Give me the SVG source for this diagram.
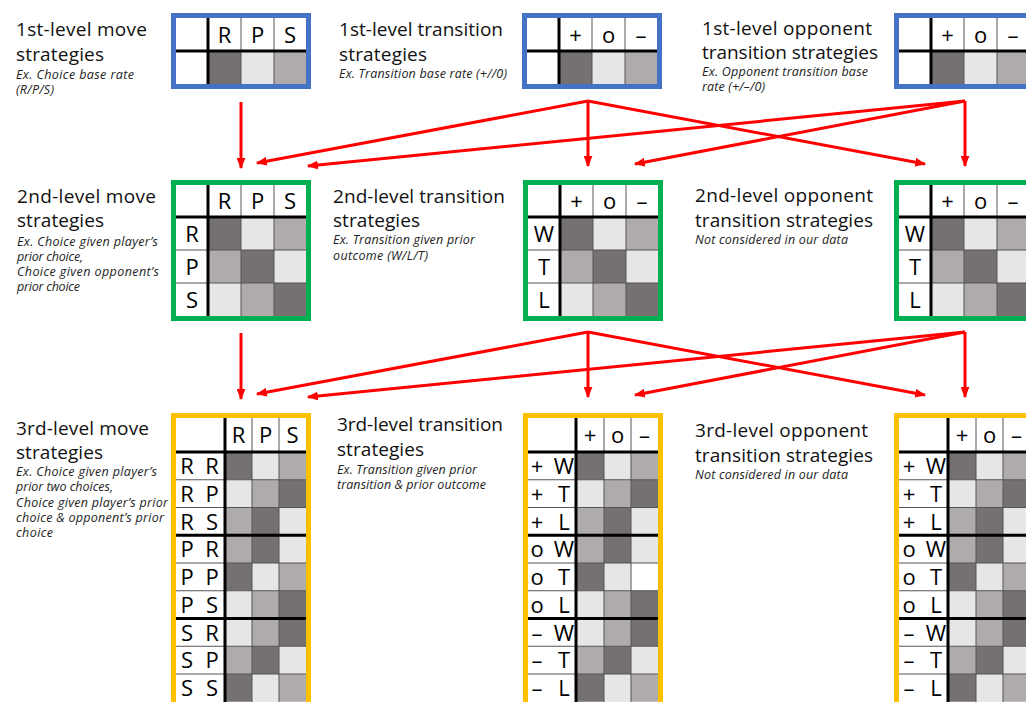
<svg xmlns="http://www.w3.org/2000/svg" width="1026" height="702" viewBox="0 0 1026 702">
<defs>
<style>
.t{font-family:"Open Sans","Liberation Sans",sans-serif;font-size:19px;fill:#111}
.s{font-family:"Open Sans","Liberation Sans",sans-serif;font-size:12.5px;font-style:italic;fill:#222}
.c{font-family:"Open Sans","Liberation Sans",sans-serif;font-size:22px;fill:#000;text-anchor:middle}
.D{fill:#767171}.M{fill:#AFABAB}.L{fill:#E7E6E6}.W{fill:#FFFFFF}
.bg{fill:#fff}
.thin{stroke:#555;stroke-width:1;fill:none}
.thick{stroke:#000;stroke-width:3;fill:none}
.blue{fill:none;stroke:#4472C4;stroke-width:5}
.green{fill:none;stroke:#00B050;stroke-width:5}
.yellow{fill:none;stroke:#FFC000;stroke-width:5}
.arr{stroke:#FF0000;stroke-width:3;fill:none;marker-end:url(#ah)}
</style>
<marker id="ah" viewBox="0 0 10 8" refX="9" refY="4" markerWidth="11" markerHeight="9" markerUnits="userSpaceOnUse" orient="auto">
<path d="M0,0 L10,4 L0,8 z" fill="#FF0000"/>
</marker>
</defs>
<rect width="1026" height="702" fill="#fff"/>

<!-- Labels -->
<g id="label-1-move">
<text class="t" x="16" y="36" textLength="131">1st-level move</text>
<text class="t" x="16" y="61" textLength="88">strategies</text>
<text class="s" x="16" y="79" textLength="118">Ex. Choice base rate</text>
<text class="s" x="16" y="94" textLength="38">(R/P/S)</text>
</g>
<g id="label-1-transition">
<text class="t" x="339" y="36" textLength="164">1st-level transition</text>
<text class="t" x="339" y="61" textLength="88">strategies</text>
<text class="s" x="339" y="78" textLength="168">Ex. Transition base rate (+//0)</text>
</g>
<g id="label-1-opponent">
<text class="t" x="702" y="35" textLength="170">1st-level opponent</text>
<text class="t" x="702" y="59" textLength="176">transition strategies</text>
<text class="s" x="702" y="76" textLength="166">Ex. Opponent transition base</text>
<text class="s" x="702" y="91" textLength="63">rate (+/–/0)</text>
</g>
<g id="label-2-move">
<text class="t" x="17" y="203" textLength="139">2nd-level move</text>
<text class="t" x="17" y="227" textLength="87">strategies</text>
<text class="s" x="17" y="246" textLength="141">Ex. Choice given player’s</text>
<text class="s" x="17" y="261" textLength="66">prior choice,</text>
<text class="s" x="17" y="276" textLength="142">Choice given opponent’s</text>
<text class="s" x="17" y="291" textLength="63">prior choice</text>
</g>
<g id="label-2-transition">
<text class="t" x="333" y="203" textLength="172">2nd-level transition</text>
<text class="t" x="333" y="227" textLength="87">strategies</text>
<text class="s" x="333" y="244" textLength="142">Ex. Transition given prior</text>
<text class="s" x="333" y="260" textLength="95">outcome (W/L/T)</text>
</g>
<g id="label-2-opponent">
<text class="t" x="695" y="202" textLength="178">2nd-level opponent</text>
<text class="t" x="695" y="227" textLength="178">transition strategies</text>
<text class="s" x="695" y="244" textLength="153">Not considered in our data</text>
</g>
<g id="label-3-move">
<text class="t" x="16" y="435" textLength="133">3rd-level move</text>
<text class="t" x="16" y="459" textLength="87">strategies</text>
<text class="s" x="16" y="476" textLength="141">Ex. Choice given player’s</text>
<text class="s" x="16" y="491" textLength="97">prior two choices,</text>
<text class="s" x="16" y="507" textLength="152">Choice given player’s prior</text>
<text class="s" x="16" y="522" textLength="148">choice &amp; opponent’s prior</text>
<text class="s" x="16" y="537" textLength="37">choice</text>
</g>
<g id="label-3-transition">
<text class="t" x="337" y="431" textLength="166">3rd-level transition</text>
<text class="t" x="337" y="456" textLength="87">strategies</text>
<text class="s" x="337" y="474" textLength="140">Ex. Transition given prior</text>
<text class="s" x="337" y="489" textLength="149">transition &amp; prior outcome</text>
</g>
<g id="label-3-opponent">
<text class="t" x="695" y="437" textLength="173">3rd-level opponent</text>
<text class="t" x="695" y="462" textLength="178">transition strategies</text>
<text class="s" x="695" y="479" textLength="153">Not considered in our data</text>
</g>

<!-- Level 1 tables -->
<g id="table-1-move">
<rect class="bg" x="176" y="18" width="130" height="66"/>
<rect class="D" x="208" y="51" width="33" height="33"/><rect class="L" x="241" y="51" width="33" height="33"/><rect class="M" x="274" y="51" width="32" height="33"/>
<path class="thin" d="M241,18V84M274,18V84"/>
<path class="thick" d="M208,18V84M176,51H306"/>
<text class="c" x="224.5" y="42.5">R</text><text class="c" x="257.5" y="42.5">P</text><text class="c" x="290" y="42.5">S</text>
<rect class="blue" x="173.5" y="15.5" width="135" height="71"/>
</g>
<g id="table-1-transition">
<rect class="bg" x="527" y="18" width="130" height="66"/>
<rect class="D" x="559" y="51" width="33" height="33"/><rect class="L" x="592" y="51" width="33" height="33"/><rect class="M" x="625" y="51" width="32" height="33"/>
<path class="thin" d="M592,18V84M625,18V84"/>
<path class="thick" d="M559,18V84M527,51H657"/>
<text class="c" x="575.5" y="42.5">+</text><text class="c" x="608.5" y="42.5">o</text><text class="c" x="641" y="42.5">–</text>
<rect class="blue" x="524.5" y="15.5" width="135" height="71"/>
</g>
<g id="table-1-opponent">
<rect class="bg" x="899" y="18" width="130" height="66"/>
<rect class="D" x="931" y="51" width="33" height="33"/><rect class="L" x="964" y="51" width="33" height="33"/><rect class="M" x="997" y="51" width="32" height="33"/>
<path class="thin" d="M964,18V84M997,18V84"/>
<path class="thick" d="M931,18V84M899,51H1029"/>
<text class="c" x="947.5" y="42.5">+</text><text class="c" x="980.5" y="42.5">o</text><text class="c" x="1013" y="42.5">–</text>
<rect class="blue" x="896.5" y="15.5" width="135" height="71"/>
</g>

<!-- Level 2 tables -->
<g id="table-2-move">
<rect class="bg" x="176" y="185" width="130" height="131"/>
<rect class="D" x="208" y="217" width="33" height="33"/><rect class="L" x="241" y="217" width="33" height="33"/><rect class="M" x="274" y="217" width="32" height="33"/>
<rect class="M" x="208" y="250" width="33" height="33"/><rect class="D" x="241" y="250" width="33" height="33"/><rect class="L" x="274" y="250" width="32" height="33"/>
<rect class="L" x="208" y="283" width="33" height="33"/><rect class="M" x="241" y="283" width="33" height="33"/><rect class="D" x="274" y="283" width="32" height="33"/>
<path class="thin" d="M241,185V316M274,185V316M176,250H306M176,283H306"/>
<path class="thick" d="M208,185V316M176,217H306"/>
<text class="c" x="224.5" y="209">R</text><text class="c" x="257.5" y="209">P</text><text class="c" x="290" y="209">S</text>
<text class="c" x="192" y="241.5">R</text><text class="c" x="192" y="274.5">P</text><text class="c" x="192" y="307.5">S</text>
<rect class="green" x="173.5" y="182.5" width="135" height="136"/>
</g>
<g id="table-2-transition">
<rect class="bg" x="528" y="185" width="130" height="131"/>
<rect class="D" x="560" y="217" width="33" height="33"/><rect class="L" x="593" y="217" width="33" height="33"/><rect class="M" x="626" y="217" width="32" height="33"/>
<rect class="M" x="560" y="250" width="33" height="33"/><rect class="D" x="593" y="250" width="33" height="33"/><rect class="L" x="626" y="250" width="32" height="33"/>
<rect class="L" x="560" y="283" width="33" height="33"/><rect class="M" x="593" y="283" width="33" height="33"/><rect class="D" x="626" y="283" width="32" height="33"/>
<path class="thin" d="M593,185V316M626,185V316M528,250H658M528,283H658"/>
<path class="thick" d="M560,185V316M528,217H658"/>
<text class="c" x="576.5" y="209">+</text><text class="c" x="609.5" y="209">o</text><text class="c" x="642" y="209">–</text>
<text class="c" x="544" y="241.5">W</text><text class="c" x="544" y="274.5">T</text><text class="c" x="544" y="307.5">L</text>
<rect class="green" x="525.5" y="182.5" width="135" height="136"/>
</g>
<g id="table-2-opponent">
<rect class="bg" x="899" y="185" width="130" height="131"/>
<rect class="D" x="931" y="217" width="33" height="33"/><rect class="L" x="964" y="217" width="33" height="33"/><rect class="M" x="997" y="217" width="32" height="33"/>
<rect class="M" x="931" y="250" width="33" height="33"/><rect class="D" x="964" y="250" width="33" height="33"/><rect class="L" x="997" y="250" width="32" height="33"/>
<rect class="L" x="931" y="283" width="33" height="33"/><rect class="M" x="964" y="283" width="33" height="33"/><rect class="D" x="997" y="283" width="32" height="33"/>
<path class="thin" d="M964,185V316M997,185V316M899,250H1029M899,283H1029"/>
<path class="thick" d="M931,185V316M899,217H1029"/>
<text class="c" x="947.5" y="209">+</text><text class="c" x="980.5" y="209">o</text><text class="c" x="1013" y="209">–</text>
<text class="c" x="915" y="241.5">W</text><text class="c" x="915" y="274.5">T</text><text class="c" x="915" y="307.5">L</text>
<rect class="green" x="896.5" y="182.5" width="135" height="136"/>
</g>

<!-- Level 3 tables -->
<g id="table-3-move">
<rect class="bg" x="176" y="418" width="130" height="284"/>
<rect class="D" x="225" y="452" width="27" height="27.75"/><rect class="L" x="252" y="452" width="27" height="27.75"/><rect class="M" x="279" y="452" width="27" height="27.75"/>
<rect class="L" x="225" y="479.75" width="27" height="27.75"/><rect class="M" x="252" y="479.75" width="27" height="27.75"/><rect class="D" x="279" y="479.75" width="27" height="27.75"/>
<rect class="M" x="225" y="507.5" width="27" height="27.75"/><rect class="D" x="252" y="507.5" width="27" height="27.75"/><rect class="L" x="279" y="507.5" width="27" height="27.75"/>
<rect class="M" x="225" y="535.25" width="27" height="27.75"/><rect class="D" x="252" y="535.25" width="27" height="27.75"/><rect class="L" x="279" y="535.25" width="27" height="27.75"/>
<rect class="D" x="225" y="563" width="27" height="27.75"/><rect class="L" x="252" y="563" width="27" height="27.75"/><rect class="M" x="279" y="563" width="27" height="27.75"/>
<rect class="L" x="225" y="590.75" width="27" height="27.75"/><rect class="M" x="252" y="590.75" width="27" height="27.75"/><rect class="D" x="279" y="590.75" width="27" height="27.75"/>
<rect class="L" x="225" y="618.5" width="27" height="27.75"/><rect class="M" x="252" y="618.5" width="27" height="27.75"/><rect class="D" x="279" y="618.5" width="27" height="27.75"/>
<rect class="M" x="225" y="646.25" width="27" height="27.75"/><rect class="D" x="252" y="646.25" width="27" height="27.75"/><rect class="L" x="279" y="646.25" width="27" height="27.75"/>
<rect class="D" x="225" y="674" width="27" height="27.75"/><rect class="L" x="252" y="674" width="27" height="27.75"/><rect class="M" x="279" y="674" width="27" height="27.75"/>
<path class="thin" d="M252,418V702M279,418V702M176,479.75H306M176,507.5H306M176,563H306M176,590.75H306M176,646.25H306M176,674H306"/>
<path class="thick" d="M225,418V702M176,452H306M176,535.25H306M176,618.5H306"/>
<text class="c" x="238.5" y="443">R</text><text class="c" x="265.5" y="443">P</text><text class="c" x="292.5" y="443">S</text>
<text class="c" x="187" y="474">R</text><text class="c" x="212" y="474">R</text>
<text class="c" x="187" y="501.5">R</text><text class="c" x="212" y="501.5">P</text>
<text class="c" x="187" y="529.5">R</text><text class="c" x="212" y="529.5">S</text>
<text class="c" x="187" y="557">P</text><text class="c" x="212" y="557">R</text>
<text class="c" x="187" y="585">P</text><text class="c" x="212" y="585">P</text>
<text class="c" x="187" y="612.5">P</text><text class="c" x="212" y="612.5">S</text>
<text class="c" x="187" y="640.5">S</text><text class="c" x="212" y="640.5">R</text>
<text class="c" x="187" y="668">S</text><text class="c" x="212" y="668">P</text>
<text class="c" x="187" y="696">S</text><text class="c" x="212" y="696">S</text>
<rect class="yellow" x="173.5" y="415.5" width="135" height="300"/>
</g>
<g id="table-3-transition">
<rect class="bg" x="528" y="418" width="130" height="284"/>
<rect class="D" x="576" y="452" width="28" height="27.75"/><rect class="L" x="604" y="452" width="27" height="27.75"/><rect class="M" x="631" y="452" width="27" height="27.75"/>
<rect class="L" x="576" y="479.75" width="28" height="27.75"/><rect class="M" x="604" y="479.75" width="27" height="27.75"/><rect class="D" x="631" y="479.75" width="27" height="27.75"/>
<rect class="M" x="576" y="507.5" width="28" height="27.75"/><rect class="D" x="604" y="507.5" width="27" height="27.75"/><rect class="L" x="631" y="507.5" width="27" height="27.75"/>
<rect class="M" x="576" y="535.25" width="28" height="27.75"/><rect class="D" x="604" y="535.25" width="27" height="27.75"/><rect class="L" x="631" y="535.25" width="27" height="27.75"/>
<rect class="D" x="576" y="563" width="28" height="27.75"/><rect class="L" x="604" y="563" width="27" height="27.75"/><rect class="W" x="631" y="563" width="27" height="27.75"/>
<rect class="L" x="576" y="590.75" width="28" height="27.75"/><rect class="M" x="604" y="590.75" width="27" height="27.75"/><rect class="D" x="631" y="590.75" width="27" height="27.75"/>
<rect class="L" x="576" y="618.5" width="28" height="27.75"/><rect class="M" x="604" y="618.5" width="27" height="27.75"/><rect class="D" x="631" y="618.5" width="27" height="27.75"/>
<rect class="M" x="576" y="646.25" width="28" height="27.75"/><rect class="D" x="604" y="646.25" width="27" height="27.75"/><rect class="L" x="631" y="646.25" width="27" height="27.75"/>
<rect class="D" x="576" y="674" width="28" height="27.75"/><rect class="L" x="604" y="674" width="27" height="27.75"/><rect class="M" x="631" y="674" width="27" height="27.75"/>
<path class="thin" d="M604,418V702M631,418V702M528,479.75H658M528,507.5H658M528,563H658M528,590.75H658M528,646.25H658M528,674H658"/>
<path class="thick" d="M576,418V702M528,452H658M528,535.25H658M528,618.5H658"/>
<text class="c" x="590" y="443">+</text><text class="c" x="617.5" y="443">o</text><text class="c" x="644.5" y="443">–</text>
<text class="c" x="537" y="474">+</text><text class="c" x="564" y="474">W</text>
<text class="c" x="537" y="501.5">+</text><text class="c" x="564" y="501.5">T</text>
<text class="c" x="537" y="529.5">+</text><text class="c" x="564" y="529.5">L</text>
<text class="c" x="537" y="557">o</text><text class="c" x="564" y="557">W</text>
<text class="c" x="537" y="585">o</text><text class="c" x="564" y="585">T</text>
<text class="c" x="537" y="612.5">o</text><text class="c" x="564" y="612.5">L</text>
<text class="c" x="537" y="640.5">–</text><text class="c" x="564" y="640.5">W</text>
<text class="c" x="537" y="668">–</text><text class="c" x="564" y="668">T</text>
<text class="c" x="537" y="696">–</text><text class="c" x="564" y="696">L</text>
<rect class="yellow" x="525.5" y="415.5" width="135" height="300"/>
</g>
<g id="table-3-opponent">
<rect class="bg" x="899" y="418" width="131" height="284"/>
<rect class="D" x="948" y="452" width="28" height="27.75"/><rect class="L" x="976" y="452" width="27" height="27.75"/><rect class="M" x="1003" y="452" width="27" height="27.75"/>
<rect class="L" x="948" y="479.75" width="28" height="27.75"/><rect class="M" x="976" y="479.75" width="27" height="27.75"/><rect class="D" x="1003" y="479.75" width="27" height="27.75"/>
<rect class="M" x="948" y="507.5" width="28" height="27.75"/><rect class="D" x="976" y="507.5" width="27" height="27.75"/><rect class="L" x="1003" y="507.5" width="27" height="27.75"/>
<rect class="M" x="948" y="535.25" width="28" height="27.75"/><rect class="D" x="976" y="535.25" width="27" height="27.75"/><rect class="L" x="1003" y="535.25" width="27" height="27.75"/>
<rect class="D" x="948" y="563" width="28" height="27.75"/><rect class="L" x="976" y="563" width="27" height="27.75"/><rect class="M" x="1003" y="563" width="27" height="27.75"/>
<rect class="L" x="948" y="590.75" width="28" height="27.75"/><rect class="M" x="976" y="590.75" width="27" height="27.75"/><rect class="D" x="1003" y="590.75" width="27" height="27.75"/>
<rect class="L" x="948" y="618.5" width="28" height="27.75"/><rect class="M" x="976" y="618.5" width="27" height="27.75"/><rect class="D" x="1003" y="618.5" width="27" height="27.75"/>
<rect class="M" x="948" y="646.25" width="28" height="27.75"/><rect class="D" x="976" y="646.25" width="27" height="27.75"/><rect class="L" x="1003" y="646.25" width="27" height="27.75"/>
<rect class="D" x="948" y="674" width="28" height="27.75"/><rect class="L" x="976" y="674" width="27" height="27.75"/><rect class="M" x="1003" y="674" width="27" height="27.75"/>
<path class="thin" d="M976,418V702M1003,418V702M899,479.75H1030M899,507.5H1030M899,563H1030M899,590.75H1030M899,646.25H1030M899,674H1030"/>
<path class="thick" d="M948,418V702M899,452H1030M899,535.25H1030M899,618.5H1030"/>
<text class="c" x="962" y="443">+</text><text class="c" x="989.5" y="443">o</text><text class="c" x="1016.5" y="443">–</text>
<text class="c" x="909" y="474">+</text><text class="c" x="936" y="474">W</text>
<text class="c" x="909" y="501.5">+</text><text class="c" x="936" y="501.5">T</text>
<text class="c" x="909" y="529.5">+</text><text class="c" x="936" y="529.5">L</text>
<text class="c" x="909" y="557">o</text><text class="c" x="936" y="557">W</text>
<text class="c" x="909" y="585">o</text><text class="c" x="936" y="585">T</text>
<text class="c" x="909" y="612.5">o</text><text class="c" x="936" y="612.5">L</text>
<text class="c" x="909" y="640.5">–</text><text class="c" x="936" y="640.5">W</text>
<text class="c" x="909" y="668">–</text><text class="c" x="936" y="668">T</text>
<text class="c" x="909" y="696">–</text><text class="c" x="936" y="696">L</text>
<rect class="yellow" x="896.5" y="415.5" width="136" height="300"/>
</g>

<!-- Connectors -->
<g id="connectors">
<line class="arr" x1="241" y1="102" x2="241" y2="168"/>
<line class="arr" x1="588" y1="101" x2="257" y2="163"/>
<line class="arr" x1="965" y1="101" x2="308" y2="166"/>
<line class="arr" x1="588" y1="101" x2="588" y2="166"/>
<line class="arr" x1="965" y1="101" x2="635" y2="164"/>
<line class="arr" x1="588" y1="101" x2="925" y2="164"/>
<line class="arr" x1="965" y1="101" x2="965" y2="166"/>
<line class="arr" x1="241" y1="333" x2="241" y2="399"/>
<line class="arr" x1="588" y1="332" x2="257" y2="394"/>
<line class="arr" x1="965" y1="332" x2="308" y2="397"/>
<line class="arr" x1="588" y1="332" x2="588" y2="397"/>
<line class="arr" x1="965" y1="332" x2="635" y2="395"/>
<line class="arr" x1="588" y1="332" x2="925" y2="395"/>
<line class="arr" x1="965" y1="332" x2="965" y2="397"/>
</g>
</svg>
